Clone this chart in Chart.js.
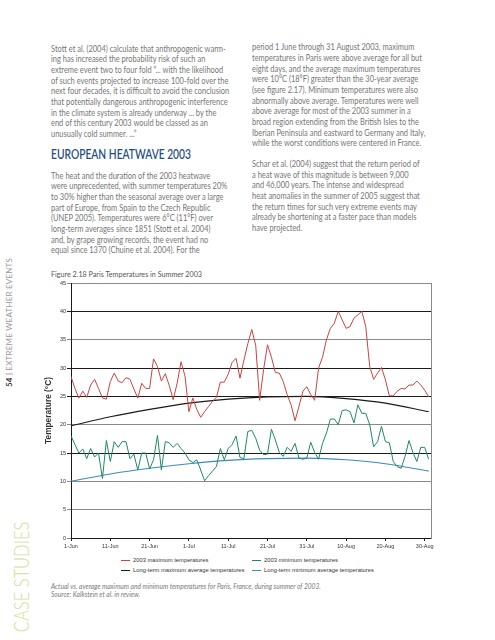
<!DOCTYPE html>
<html>
<head>
<meta charset="utf-8">
<script src="https://cdn.jsdelivr.net/npm/chart.js@4.4.1/dist/chart.umd.min.js"></script>
<style>
  body { margin: 0; width: 495px; height: 640px; background: #fff; position: relative; overflow: hidden; font-family: Lato, "Open Sans", sans-serif; }
  .txt { position: absolute; font-size: 8.5px; line-height: 10.67px; color: #767676; white-space: nowrap; transform: scaleX(0.88); transform-origin: 0 0; }
  .head { position: absolute; left: 51px; top: 147px; font-size: 12.5px; color: #1f4f82; font-weight: 600; white-space: nowrap; transform: scaleX(0.82); transform-origin: 0 0; }
  .figtitle { position: absolute; left: 51px; top: 269px; font-size: 7.8px; color: #555; white-space: nowrap; transform: scaleX(0.92); transform-origin: 0 0; }
  .side { position: absolute; writing-mode: vertical-rl; white-space: nowrap; }
  #legend { position: absolute; left: 121px; top: 557px; font-family: "Liberation Sans", Arial, sans-serif; font-size: 5.8px; color: #333; }
  #legend div { position: absolute; white-space: nowrap; }
  #legend span.ln { display: inline-block; width: 9px; height: 1px; vertical-align: middle; margin-right: 3px; }
  .caption { position: absolute; left: 51px; top: 583px; font-size: 7.2px; line-height: 8px; color: #7a7a7a; font-style: italic; white-space: nowrap; transform: scaleX(0.92); transform-origin: 0 0; }
  #wrap { position: absolute; left: 36px; top: 276px; width: 404px; height: 278px; }
</style>
</head>
<body>

<div class="txt" style="left:51px; top:43.7px;">Stott et al. (2004) calculate that anthropogenic warm-<br>ing has increased the probability risk of such an<br>extreme event two to four fold “... with the likelihood<br>of such events projected to increase 100-fold over the<br>next four decades, it is difficult to avoid the conclusion<br>that potentially dangerous anthropogenic interference<br>in the climate system is already underway ... by the<br>end of this century 2003 would be classed as an<br>unusually cold summer. ...”</div>

<div class="head">EUROPEAN HEATWAVE 2003</div>

<div class="txt" style="left:51px; top:170.7px;">The heat and the duration of the 2003 heatwave<br>were unprecedented, with summer temperatures 20%<br>to 30% higher than the seasonal average over a large<br>part of Europe, from Spain to the Czech Republic<br>(UNEP 2005). Temperatures were 6°C (11°F) over<br>long-term averages since 1851 (Stott et al. 2004)<br>and, by grape growing records, the event had no<br>equal since 1370 (Chuine et al. 2004). For the</div>

<div class="txt" style="left:252px; top:42.4px;">period 1 June through 31 August 2003, maximum<br>temperatures in Paris were above average for all but<br>eight days, and the average maximum temperatures<br>were 10°C (18°F) greater than the 30-year average<br>(see figure 2.17). Minimum temperatures were also<br>abnormally above average. Temperatures were well<br>above average for most of the 2003 summer in a<br>broad region extending from the British Isles to the<br>Iberian Peninsula and eastward to Germany and Italy,<br>while the worst conditions were centered in France.</div>

<div class="txt" style="left:252px; top:159px;">Schar et al. (2004) suggest that the return period of<br>a heat wave of this magnitude is between 9,000<br>and 46,000 years. The intense and widespread<br>heat anomalies in the summer of 2005 suggest that<br>the return times for such very extreme events may<br>already be shortening at a faster pace than models<br>have projected.</div>

<div class="figtitle">Figure 2.18 Paris Temperatures in Summer 2003</div>

<div class="side" style="left:4px; top:258px; font-size:8px; color:#999; letter-spacing:0.2px; transform: rotate(180deg);"><b style="color:#333;">54</b> <span style="color:#c0392b;">|</span> EXTREME WEATHER EVENTS</div>
<div class="side" style="left:7px; top:507px; height:143px; font-size:22px; line-height:28px; color:#d6dd9c; font-weight:300; transform: rotate(180deg) scale(1, 0.75);">CASE STUDIES</div>

<div id="wrap"><canvas id="chart"></canvas></div>

<div id="legend"></div>

<div class="caption">Actual vs. average maximum and minimum temperatures for Paris, France, during summer of 2003.<br>Source: Kalkstein et al. in review.</div>

<script>
// x ticks every 10 days from 1 June
const tickDays = [0, 10, 20, 30, 40, 50, 60, 70, 80, 90];
const tickLabels = ["1-Jun", "11-Jun", "21-Jun", "1-Jul", "11-Jul", "21-Jul", "31-Jul", "10-Aug", "20-Aug", "30-Aug"];

// daily values, 1 June .. 31 August 2003
const maxTemps = [
  28.5, 26.4, 24.7, 25.9, 24.8, 27.0, 28.0, 26.4, 24.7, 24.5,
  27.6, 29.1, 27.7, 27.4, 28.3, 28.0, 26.3, 24.7, 27.3, 26.4,
  26.4, 31.6, 30.3, 27.7, 29.0, 26.9, 24.4, 27.3, 31.1, 28.6,
  22.3, 24.7, 22.7, 21.3, 22.3, 23.2, 24.1, 24.8, 27.5, 27.5,
  28.9, 31.0, 31.7, 28.2, 31.4, 34.3, 36.8, 34.0, 24.3, 29.7,
  34.1, 31.9, 29.2, 29.1, 27.6, 25.3, 23.5, 20.7, 23.2, 25.9,
  26.7, 25.3, 24.3, 30.0, 31.9, 35.0, 37.0, 37.9, 40.0, 38.5,
  37.0, 37.3, 38.8, 39.4, 40.0, 37.3, 30.3, 28.0, 29.1, 30.1,
  27.9, 25.1, 25.1, 25.9, 26.4, 26.3, 27.0, 27.0, 27.7, 27.0,
  26.1, 24.9
];
const minTemps = [
  18.0, 16.5, 15.0, 15.7, 14.0, 15.8, 14.3, 15.0, 10.5, 17.2,
  13.5, 17.0, 16.0, 17.0, 17.0, 14.0, 14.8, 12.0, 15.0, 15.0,
  12.2, 13.8, 18.1, 12.0, 17.0, 16.8, 16.0, 16.7, 15.8, 15.0,
  13.8, 13.3, 13.8, 12.0, 10.1, 11.0, 11.8, 12.6, 15.8, 13.8,
  15.8, 16.5, 18.0, 14.2, 14.0, 18.8, 19.0, 17.6, 15.5, 14.7,
  14.8, 19.2, 17.3, 15.1, 14.4, 16.0, 15.3, 16.7, 14.1, 13.9,
  14.1, 16.9, 15.1, 13.9, 16.7, 18.5, 21.0, 21.0, 20.0, 22.5,
  22.6, 22.3, 20.3, 23.5, 22.0, 22.0, 20.0, 16.1, 17.0, 19.7,
  17.0, 16.8, 13.5, 12.6, 12.3, 14.4, 17.2, 15.1, 13.5, 16.0,
  16.0, 13.9
];

// long-term averages, read at these days
const avgDays = [0, 10, 20, 30, 40, 50, 60, 70, 80, 91];
const avgMax = [19.8, 21.4, 22.7, 23.8, 24.5, 24.9, 25.0, 24.6, 23.8, 22.3];
const avgMin = [10.0, 11.3, 12.3, 13.1, 13.7, 14.0, 14.1, 13.8, 13.1, 11.8];

const seriesNames = ["2003 maximum temperatures", "2003 minimum temperatures", "Long-term maximum average temperatures", "Long-term minimum average temperatures"];
const seriesColors = ["#c8443e", "#1e8a5e", "#1a1a1a", "#3b8bc2"];

function daily(arr) { return arr.map((y, i) => ({ x: i, y: y })); }
function sparse(days, arr) { return days.map((d, i) => ({ x: d, y: arr[i] })); }

const darkLines = [40, 30, 25, 15];
const tickFont = { family: "'Liberation Sans', Arial, sans-serif", size: 5.5 };

new Chart(document.getElementById("chart"), {
  type: "line",
  data: {
    datasets: [
      { label: seriesNames[0], data: daily(maxTemps), borderColor: seriesColors[0], borderWidth: 1, tension: 0 },
      { label: seriesNames[1], data: daily(minTemps), borderColor: seriesColors[1], borderWidth: 1, tension: 0 },
      { label: seriesNames[2], data: sparse(avgDays, avgMax), borderColor: seriesColors[2], borderWidth: 1.1, cubicInterpolationMode: "monotone" },
      { label: seriesNames[3], data: sparse(avgDays, avgMin), borderColor: seriesColors[3], borderWidth: 1.1, cubicInterpolationMode: "monotone" }
    ]
  },
  options: {
    responsive: true,
    maintainAspectRatio: false,
    animation: false,
    layout: { padding: { top: 7, right: 9, bottom: 0, left: 0 } },
    elements: { point: { radius: 0 } },
    plugins: { legend: { display: false }, tooltip: { enabled: false } },
    scales: {
      x: {
        type: "linear",
        min: 0,
        max: 91.6,
        afterBuildTicks: s => { s.ticks = tickDays.map(v => ({ value: v })); },
        afterFit: s => { s.height = 16; },
        ticks: { callback: v => tickLabels[tickDays.indexOf(v)], color: "#333", font: tickFont, padding: 2, maxRotation: 0 },
        grid: { drawOnChartArea: false, tickLength: 3, color: "#222" },
        border: { color: "#1a1a1a", width: 1 }
      },
      y: {
        min: 0,
        max: 45,
        afterFit: s => { s.width = 35; },
        ticks: { stepSize: 5, color: "#333", font: tickFont, padding: 1 },
        grid: { tickLength: 4, lineWidth: 1, color: c => darkLines.includes(c.tick && c.tick.value) ? "#1a1a1a" : "#8a8a8a" },
        border: { color: "#1a1a1a", width: 1 },
        title: { display: true, text: "Temperature (°C)", color: "#333", font: { family: "'Liberation Sans', Arial, sans-serif", size: 8.3, weight: "bold" }, padding: { top: 8, bottom: 0 } }
      },
      y2: {
        position: "right",
        min: 0,
        max: 45,
        ticks: { display: false },
        grid: { drawOnChartArea: false, drawTicks: false },
        border: { color: "#8a8a8a", width: 1 },
        afterFit: s => { s.width = 0; }
      }
    }
  }
});

// legend in two columns like the original
const legend = document.getElementById("legend");
const cols = [0, 131];
seriesNames.forEach((name, i) => {
  const d = document.createElement("div");
  d.style.left = cols[i % 2] + "px";
  d.style.top = (Math.floor(i / 2) * 10) + "px";
  d.innerHTML = '<span class="ln" style="background:' + seriesColors[i] + '"></span>' + name;
  legend.appendChild(d);
});
</script>
</body>
</html>
